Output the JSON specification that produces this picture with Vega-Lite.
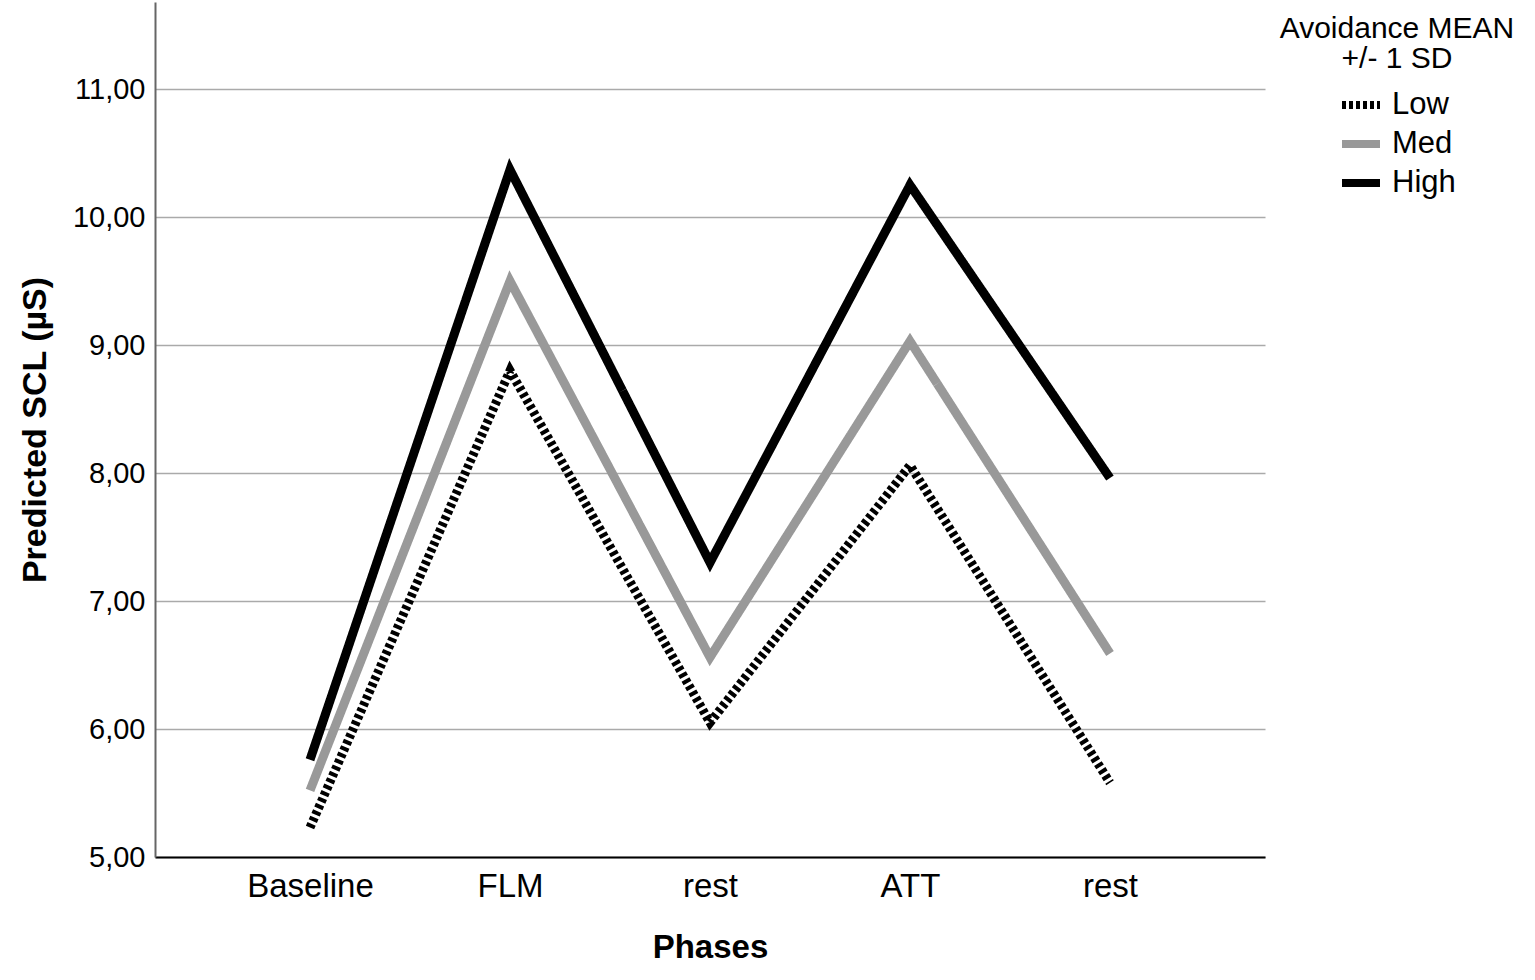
{
  "$schema": "https://vega.github.io/schema/vega-lite/v6.json",
  "width": 1110,
  "height": 855,
  "autosize": {"type": "none"},
  "padding": {"left": 155, "top": 2, "right": 270, "bottom": 123},
  "background": "white",
  "config": {
    "font": "Liberation Sans",
    "view": {"stroke": null}
  },
  "data": {
    "values": [
      {"phase": "Baseline", "level": "Low", "scl": 5.23},
      {"phase": "FLM", "level": "Low", "scl": 8.8},
      {"phase": "rest1", "level": "Low", "scl": 6.05},
      {"phase": "ATT", "level": "Low", "scl": 8.06},
      {"phase": "rest2", "level": "Low", "scl": 5.58},
      {"phase": "Baseline", "level": "Med", "scl": 5.52},
      {"phase": "FLM", "level": "Med", "scl": 9.5},
      {"phase": "rest1", "level": "Med", "scl": 6.56},
      {"phase": "ATT", "level": "Med", "scl": 9.03},
      {"phase": "rest2", "level": "Med", "scl": 6.59},
      {"phase": "Baseline", "level": "High", "scl": 5.76},
      {"phase": "FLM", "level": "High", "scl": 10.37},
      {"phase": "rest1", "level": "High", "scl": 7.3},
      {"phase": "ATT", "level": "High", "scl": 10.25},
      {"phase": "rest2", "level": "High", "scl": 7.96}
    ]
  },
  "mark": {"type": "line", "strokeWidth": 9, "strokeJoin": "miter", "strokeCap": "butt"},
  "encoding": {
    "x": {
      "field": "phase",
      "type": "ordinal",
      "sort": ["Baseline", "FLM", "rest1", "ATT", "rest2"],
      "scale": {"type": "point", "padding": 0.775},
      "axis": {
        "title": "Phases",
        "titleFontSize": 33,
        "titleFontWeight": "bold",
        "titleColor": "black",
        "titlePadding": 28,
        "labelFontSize": 33,
        "labelColor": "black",
        "labelAngle": 0,
        "labelPadding": 13,
        "labelExpr": "datum.label == 'rest1' || datum.label == 'rest2' ? 'rest' : datum.label",
        "ticks": false,
        "domainColor": "black",
        "domainWidth": 2,
        "grid": false
      }
    },
    "y": {
      "field": "scl",
      "type": "quantitative",
      "scale": {"domain": [5, 11.68], "nice": false, "zero": false},
      "axis": {
        "title": "Predicted SCL (µS)",
        "titleFontSize": 34,
        "titleFontWeight": "bold",
        "titleColor": "black",
        "titlePadding": 20,
        "values": [5, 6, 7, 8, 9, 10, 11],
        "labelExpr": "replace(format(datum.value, '.2f'), '.', ',')",
        "labelFontSize": 29,
        "labelColor": "black",
        "labelPadding": 10,
        "ticks": false,
        "domainColor": "#666666",
        "domainWidth": 2,
        "gridColor": "#aaaaaa",
        "gridWidth": 1.5
      }
    },
    "color": {
      "field": "level",
      "type": "nominal",
      "sort": ["Low", "Med", "High"],
      "scale": {"domain": ["Low", "Med", "High"], "range": ["#000000", "#999999", "#000000"]},
      "legend": {
        "title": ["Avoidance MEAN", "+/- 1 SD"],
        "orient": "none",
        "legendX": 1125,
        "legendY": 12,
        "titleFontSize": 30,
        "titleFontWeight": "normal",
        "titleColor": "black",
        "titleAnchor": "middle",
        "titleLimit": 500,
        "titleLineHeight": 30,
        "titlePadding": 8,
        "labelFontSize": 31,
        "labelColor": "black",
        "labelOffset": 8,
        "symbolType": "stroke",
        "symbolStrokeWidth": 8,
        "symbolSize": 1444,
        "rowPadding": 0
      }
    },
    "strokeDash": {
      "field": "level",
      "type": "nominal",
      "sort": ["Low", "Med", "High"],
      "scale": {"domain": ["Low", "Med", "High"], "range": [[4, 3], [1, 0], [1, 0]]},
      "legend": {
        "title": ["Avoidance MEAN", "+/- 1 SD"],
        "orient": "none",
        "legendX": 1125,
        "legendY": 12
      }
    }
  }
}
